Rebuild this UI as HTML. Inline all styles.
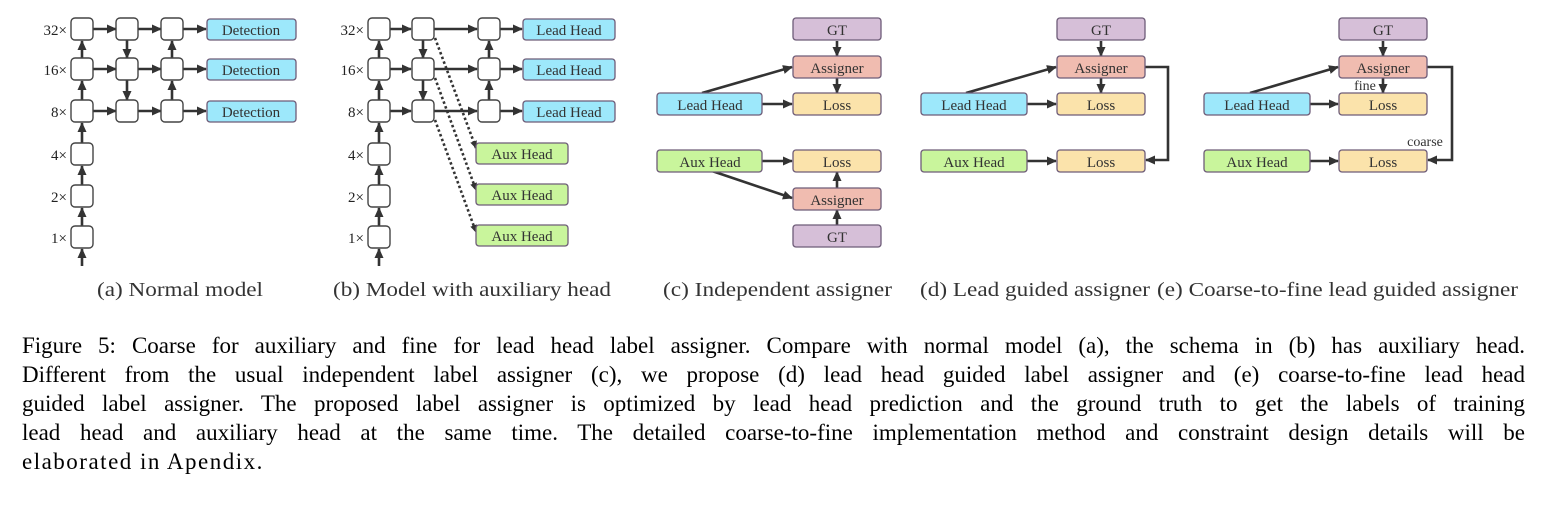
<!DOCTYPE html>
<html><head><meta charset="utf-8"><style>
body{margin:0;background:#fff;width:1545px;height:506px;overflow:hidden;position:relative}
svg{position:absolute;left:0;top:0}
.cap{position:absolute;left:22px;width:1503px;font-family:"Liberation Serif",serif;font-size:23px;color:#000;white-space:nowrap;line-height:29px}
.j{text-align:justify;text-align-last:justify;white-space:normal}
</style></head><body>
<svg width="1545" height="310" viewBox="0 0 1545 310" font-family="Liberation Serif, serif">
<defs>
<marker id="a" markerUnits="userSpaceOnUse" markerWidth="10" markerHeight="10" refX="9" refY="5" orient="auto"><path d="M0,0.5 L10,5 L0,9.5 z" fill="#333"/></marker>
<marker id="b" markerUnits="userSpaceOnUse" markerWidth="8" markerHeight="8" refX="7" refY="4" orient="auto"><path d="M0,0.5 L8,4 L0,7.5 z" fill="#333"/></marker>
</defs>
<g stroke="#333" stroke-width="2.6" fill="none">
<!-- (a) -->
<path marker-end="url(#a)" d="M93,29H116"/><path marker-end="url(#a)" d="M138,29H161"/><path marker-end="url(#a)" d="M183,29H206"/>
<path marker-end="url(#a)" d="M93,69H116"/><path marker-end="url(#a)" d="M138,69H161"/><path marker-end="url(#a)" d="M183,69H206"/>
<path marker-end="url(#a)" d="M93,111H116"/><path marker-end="url(#a)" d="M138,111H161"/><path marker-end="url(#a)" d="M183,111H206"/>
<path marker-end="url(#a)" d="M82,266V249"/><path marker-end="url(#a)" d="M82,226V208"/><path marker-end="url(#a)" d="M82,185V166"/><path marker-end="url(#a)" d="M82,143V123"/><path marker-end="url(#a)" d="M82,100V81"/><path marker-end="url(#a)" d="M82,58V41"/>
<path marker-end="url(#a)" d="M127,40V58"/><path marker-end="url(#a)" d="M127,80V100"/><path marker-end="url(#a)" d="M172,100V81"/><path marker-end="url(#a)" d="M172,58V41"/>
<!-- (b) -->
<path marker-end="url(#a)" d="M390,29H411"/><path marker-end="url(#a)" d="M434,29H477"/><path marker-end="url(#a)" d="M500,29H522"/>
<path marker-end="url(#a)" d="M390,69H411"/><path marker-end="url(#a)" d="M434,69H477"/><path marker-end="url(#a)" d="M500,69H522"/>
<path marker-end="url(#a)" d="M390,111H411"/><path marker-end="url(#a)" d="M434,111H477"/><path marker-end="url(#a)" d="M500,111H522"/>
<path marker-end="url(#a)" d="M379,266V249"/><path marker-end="url(#a)" d="M379,226V208"/><path marker-end="url(#a)" d="M379,185V166"/><path marker-end="url(#a)" d="M379,143V123"/><path marker-end="url(#a)" d="M379,100V81"/><path marker-end="url(#a)" d="M379,58V41"/>
<path marker-end="url(#a)" d="M423,40V58"/><path marker-end="url(#a)" d="M423,80V100"/><path marker-end="url(#a)" d="M489,100V81"/><path marker-end="url(#a)" d="M489,58V41"/>
</g>
<g stroke="#333" stroke-width="2.6" fill="none" stroke-dasharray="2.5,2.5">
<path marker-end="url(#b)" d="M435,38L476,148"/><path marker-end="url(#b)" d="M435,78L476,190"/><path marker-end="url(#b)" d="M435,120L476,232"/>
</g>
<g stroke="#444" stroke-width="1.4" fill="#fff">
<rect x="71" y="18" width="22" height="22" rx="4"/><rect x="116" y="18" width="22" height="22" rx="4"/><rect x="161" y="18" width="22" height="22" rx="4"/>
<rect x="71" y="58" width="22" height="22" rx="4"/><rect x="116" y="58" width="22" height="22" rx="4"/><rect x="161" y="58" width="22" height="22" rx="4"/>
<rect x="71" y="100" width="22" height="22" rx="4"/><rect x="116" y="100" width="22" height="22" rx="4"/><rect x="161" y="100" width="22" height="22" rx="4"/>
<rect x="71" y="143" width="22" height="22" rx="4"/><rect x="71" y="185" width="22" height="22" rx="4"/><rect x="71" y="226" width="22" height="22" rx="4"/>
<rect x="368" y="18" width="22" height="22" rx="4"/><rect x="412" y="18" width="22" height="22" rx="4"/><rect x="478" y="18" width="22" height="22" rx="4"/>
<rect x="368" y="58" width="22" height="22" rx="4"/><rect x="412" y="58" width="22" height="22" rx="4"/><rect x="478" y="58" width="22" height="22" rx="4"/>
<rect x="368" y="100" width="22" height="22" rx="4"/><rect x="412" y="100" width="22" height="22" rx="4"/><rect x="478" y="100" width="22" height="22" rx="4"/>
<rect x="368" y="143" width="22" height="22" rx="4"/><rect x="368" y="185" width="22" height="22" rx="4"/><rect x="368" y="226" width="22" height="22" rx="4"/>
</g>
<g font-size="15" fill="#222" text-anchor="end">
<text x="67" y="35">32×</text><text x="67" y="75">16×</text><text x="67" y="117">8×</text><text x="67" y="160">4×</text><text x="67" y="202">2×</text><text x="67" y="243">1×</text>
<text x="364" y="35">32×</text><text x="364" y="75">16×</text><text x="364" y="117">8×</text><text x="364" y="160">4×</text><text x="364" y="202">2×</text><text x="364" y="243">1×</text>
</g>
<g stroke="#333" stroke-width="2.6" fill="none">
<path marker-end="url(#a)" d="M837,41V56"/><path marker-end="url(#a)" d="M837,78V93"/><path marker-end="url(#a)" d="M762,104H792"/><path marker-end="url(#a)" d="M702,93L792,67"/><path marker-end="url(#a)" d="M762,161H792"/><path marker-end="url(#a)" d="M712,171L792,198"/><path marker-end="url(#a)" d="M837,225V210"/><path marker-end="url(#a)" d="M837,188V172"/>
<path marker-end="url(#a)" d="M1101,41V56"/><path marker-end="url(#a)" d="M1101,78V93"/><path marker-end="url(#a)" d="M1027,104H1056"/><path marker-end="url(#a)" d="M966,93L1056,67"/><path marker-end="url(#a)" d="M1027,161H1056"/><path marker-end="url(#a)" d="M1145,67H1168V160H1146"/>
<path marker-end="url(#a)" d="M1383,41V56"/><path marker-end="url(#a)" d="M1383,78V93"/><path marker-end="url(#a)" d="M1310,104H1338"/><path marker-end="url(#a)" d="M1250,93L1338,67"/><path marker-end="url(#a)" d="M1310,161H1338"/><path marker-end="url(#a)" d="M1427,67H1452V160H1428"/>
</g>
<g stroke="#6e5c78" stroke-width="1.3">
<rect x="207" y="19" width="89" height="21" rx="3" fill="#9de8fb"/><rect x="207" y="59" width="89" height="21" rx="3" fill="#9de8fb"/><rect x="207" y="101" width="89" height="21" rx="3" fill="#9de8fb"/>
<rect x="523" y="19" width="92" height="21" rx="3" fill="#9de8fb"/><rect x="523" y="59" width="92" height="21" rx="3" fill="#9de8fb"/><rect x="523" y="101" width="92" height="21" rx="3" fill="#9de8fb"/>
<rect x="476" y="143" width="92" height="21" rx="3" fill="#c9f59c"/><rect x="476" y="184" width="92" height="21" rx="3" fill="#c9f59c"/><rect x="476" y="225" width="92" height="21" rx="3" fill="#c9f59c"/>
<rect x="793" y="18" width="88" height="22" rx="3" fill="#d6bfd8"/><rect x="793" y="56" width="88" height="22" rx="3" fill="#f0bcb0"/><rect x="793" y="93" width="88" height="22" rx="3" fill="#fbe3ab"/>
<rect x="657" y="93" width="105" height="22" rx="3" fill="#9de8fb"/><rect x="657" y="150" width="105" height="22" rx="3" fill="#c9f59c"/><rect x="793" y="150" width="88" height="22" rx="3" fill="#fbe3ab"/>
<rect x="793" y="188" width="88" height="22" rx="3" fill="#f0bcb0"/><rect x="793" y="225" width="88" height="22" rx="3" fill="#d6bfd8"/>
<rect x="1057" y="18" width="88" height="22" rx="3" fill="#d6bfd8"/><rect x="1057" y="56" width="88" height="22" rx="3" fill="#f0bcb0"/><rect x="1057" y="93" width="88" height="22" rx="3" fill="#fbe3ab"/>
<rect x="921" y="93" width="106" height="22" rx="3" fill="#9de8fb"/><rect x="921" y="150" width="106" height="22" rx="3" fill="#c9f59c"/><rect x="1057" y="150" width="88" height="22" rx="3" fill="#fbe3ab"/>
<rect x="1339" y="18" width="88" height="22" rx="3" fill="#d6bfd8"/><rect x="1339" y="56" width="88" height="22" rx="3" fill="#f0bcb0"/><rect x="1339" y="93" width="88" height="22" rx="3" fill="#fbe3ab"/>
<rect x="1204" y="93" width="106" height="22" rx="3" fill="#9de8fb"/><rect x="1204" y="150" width="106" height="22" rx="3" fill="#c9f59c"/><rect x="1339" y="150" width="88" height="22" rx="3" fill="#fbe3ab"/>
</g>
<g font-size="15" fill="#333" text-anchor="middle">
<text x="251" y="35">Detection</text><text x="251" y="75">Detection</text><text x="251" y="117">Detection</text>
<text x="569" y="35">Lead Head</text><text x="569" y="75">Lead Head</text><text x="569" y="117">Lead Head</text>
<text x="522" y="159">Aux Head</text><text x="522" y="200">Aux Head</text><text x="522" y="241">Aux Head</text>
<text x="837" y="35">GT</text><text x="837" y="73">Assigner</text><text x="837" y="110">Loss</text><text x="710" y="110">Lead Head</text><text x="710" y="167">Aux Head</text><text x="837" y="167">Loss</text><text x="837" y="205">Assigner</text><text x="837" y="242">GT</text>
<text x="1101" y="35">GT</text><text x="1101" y="73">Assigner</text><text x="1101" y="110">Loss</text><text x="974" y="110">Lead Head</text><text x="974" y="167">Aux Head</text><text x="1101" y="167">Loss</text>
<text x="1383" y="35">GT</text><text x="1383" y="73">Assigner</text><text x="1383" y="110">Loss</text><text x="1257" y="110">Lead Head</text><text x="1257" y="167">Aux Head</text><text x="1383" y="167">Loss</text>
<text x="1365" y="90" font-size="14">fine</text><text x="1425" y="146" font-size="14">coarse</text>
</g>
<g font-size="20" fill="#333">
<text x="97" y="296" textLength="166" lengthAdjust="spacingAndGlyphs">(a) Normal model</text>
<text x="333" y="296" textLength="278" lengthAdjust="spacingAndGlyphs">(b) Model with auxiliary head</text>
<text x="663" y="296" textLength="229" lengthAdjust="spacingAndGlyphs">(c) Independent assigner</text>
<text x="920" y="296" textLength="230" lengthAdjust="spacingAndGlyphs">(d) Lead guided assigner</text>
<text x="1157" y="296" textLength="361" lengthAdjust="spacingAndGlyphs">(e) Coarse-to-fine lead guided assigner</text>
</g>
</svg>
<div class="cap j" style="top:331px">Figure 5: Coarse for auxiliary and fine for lead head label assigner. Compare with normal model (a), the schema in (b) has auxiliary head.</div>
<div class="cap j" style="top:360px">Different from the usual independent label assigner (c), we propose (d) lead head guided label assigner and (e) coarse-to-fine lead head</div>
<div class="cap j" style="top:389px">guided label assigner. The proposed label assigner is optimized by lead head prediction and the ground truth to get the labels of training</div>
<div class="cap j" style="top:418px">lead head and auxiliary head at the same time. The detailed coarse-to-fine implementation method and constraint design details will be</div>
<div class="cap" style="top:447px;letter-spacing:1.5px">elaborated in Apendix.</div>
</body></html>
